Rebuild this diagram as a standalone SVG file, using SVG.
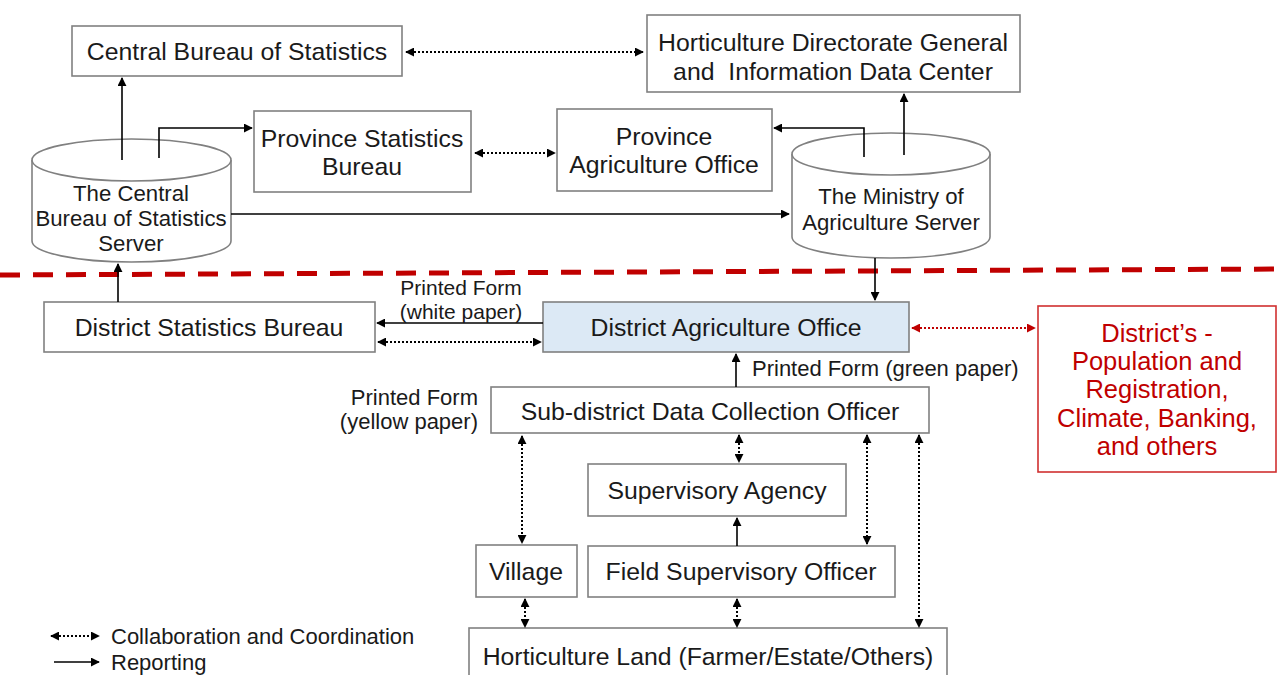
<svg xmlns="http://www.w3.org/2000/svg" width="1282" height="675" viewBox="0 0 1282 675">
<style>
.box{fill:#fff;stroke:#808080;stroke-width:1.6}
.t{font-family:"Liberation Sans",Arial,sans-serif;font-size:24.8px;fill:#1a1a1a;text-anchor:middle;dominant-baseline:central}
.c{font-size:22.2px}
.s{font-family:"Liberation Sans",Arial,sans-serif;font-size:22px;fill:#1a1a1a;dominant-baseline:central}
.w{font-size:21px}
.r{fill:#c00000;font-size:25.5px}
.sol{fill:none;stroke:#000;stroke-width:1.6}
.dot{fill:none;stroke:#000;stroke-width:2;stroke-dasharray:2 2}
.rdot{fill:none;stroke:#c00000;stroke-width:2;stroke-dasharray:2 2}
</style>
<defs>
<marker id="ah" viewBox="0 0 10 10" refX="9" refY="5" markerWidth="9" markerHeight="9" orient="auto-start-reverse" markerUnits="userSpaceOnUse"><path d="M0,0 L10,5 L0,10 z" fill="#000"/></marker>
<marker id="rah" viewBox="0 0 10 10" refX="9" refY="5" markerWidth="9" markerHeight="9" orient="auto-start-reverse" markerUnits="userSpaceOnUse"><path d="M0,0 L10,5 L0,10 z" fill="#c00000"/></marker>
</defs>
<rect width="1282" height="675" fill="#fff"/>

<g id="redline"><path d="M0,275 L1282,269" fill="none" stroke="#c00000" stroke-width="5" stroke-dasharray="20 13"/></g>

<g id="cbs"><rect class="box" x="72" y="26" width="330" height="50"/><text class="t" x="237" y="51">Central Bureau of Statistics</text></g>
<g id="hort"><rect class="box" x="647" y="15" width="373" height="77"/><text class="t" x="833" y="42">Horticulture Directorate General</text><text class="t" x="833" y="71" xml:space="preserve" style="white-space:pre">and  Information Data Center</text></g>
<g id="psb"><rect class="box" x="254" y="111" width="217" height="81"/><text class="t" x="362" y="138">Province Statistics</text><text class="t" x="362" y="166">Bureau</text></g>
<g id="pao"><rect class="box" x="557" y="109" width="215" height="82"/><text class="t" x="664" y="136">Province</text><text class="t" x="664" y="164">Agriculture Office</text></g>
<g id="cbsserver"><path class="box" d="M32,160 L32,241 A99.5,21 0 0 0 231,241 L231,160"/><ellipse class="box" cx="131.5" cy="160" rx="99.5" ry="21"/><text class="t c" x="131" y="193">The Central</text><text class="t c" x="131" y="218">Bureau of Statistics</text><text class="t c" x="131" y="243">Server</text></g>
<g id="moaserver"><path class="box" d="M792,154 L792,237 A99,21 0 0 0 990,237 L990,154"/><ellipse class="box" cx="891" cy="154" rx="99" ry="21"/><text class="t c" x="891" y="196">The Ministry of</text><text class="t c" x="891" y="222">Agriculture Server</text></g>
<g id="dsb"><rect class="box" x="44" y="302" width="331" height="50"/><text class="t" x="209" y="327">District Statistics Bureau</text></g>
<g id="dao"><rect x="543" y="302" width="366" height="50" fill="#dce9f5" stroke="#808080" stroke-width="1.6"/><text class="t" x="726" y="327">District Agriculture Office</text></g>
<g id="other"><rect x="1038" y="306" width="238" height="166" fill="#fff" stroke="#d03030" stroke-width="1.6"/><text class="t r" x="1157" y="333">District’s -</text><text class="t r" x="1157" y="361">Population and</text><text class="t r" x="1157" y="389">Registration,</text><text class="t r" x="1157" y="418">Climate, Banking,</text><text class="t r" x="1157" y="446">and others</text></g>
<g id="sub"><rect class="box" x="491" y="387" width="438" height="46"/><text class="t" x="710" y="411">Sub-district Data Collection Officer</text></g>
<g id="sup"><rect class="box" x="588" y="464" width="258" height="52"/><text class="t" x="717" y="490">Supervisory Agency</text></g>
<g id="village"><rect class="box" x="476" y="545" width="101" height="52"/><text class="t" x="526" y="571">Village</text></g>
<g id="field"><rect class="box" x="588" y="546" width="307" height="51"/><text class="t" x="741" y="571">Field Supervisory Officer</text></g>
<g id="land"><rect class="box" x="469" y="628" width="478" height="60"/><text class="t" x="708" y="656">Horticulture Land (Farmer/Estate/Others)</text></g>

<g id="connectors">
<path class="dot" d="M406,52 L643,52" marker-start="url(#ah)" marker-end="url(#ah)"/>
<path class="dot" d="M475,153 L555,153" marker-start="url(#ah)" marker-end="url(#ah)"/>
<path class="sol" d="M122,160 L122,78" marker-end="url(#ah)"/>
<path class="sol" d="M159,158 L159,128 L252,128" marker-end="url(#ah)"/>
<path class="sol" d="M231,214 L789,214" marker-end="url(#ah)"/>
<path class="sol" d="M904,155 L904,94" marker-end="url(#ah)"/>
<path class="sol" d="M864,157 L864,128 L774,128" marker-end="url(#ah)"/>
<path class="sol" d="M875,258 L875,300" marker-end="url(#ah)"/>
<path class="sol" d="M118,302 L118,264" marker-end="url(#ah)"/>
<path class="sol" d="M543,323 L377,323" marker-end="url(#ah)"/>
<path class="dot" d="M378,342 L541,342" marker-start="url(#ah)" marker-end="url(#ah)"/>
<path class="rdot" d="M912,328 L1035,328" marker-start="url(#rah)" marker-end="url(#rah)"/>
<path class="sol" d="M736,387 L736,354" marker-end="url(#ah)"/>
<path class="dot" d="M522,436 L522,543" marker-start="url(#ah)" marker-end="url(#ah)"/>
<path class="dot" d="M525,599 L525,627" marker-start="url(#ah)" marker-end="url(#ah)"/>
<path class="dot" d="M739,435 L739,462" marker-start="url(#ah)" marker-end="url(#ah)"/>
<path class="sol" d="M737,546 L737,518" marker-end="url(#ah)"/>
<path class="dot" d="M867,435 L867,544" marker-start="url(#ah)" marker-end="url(#ah)"/>
<path class="dot" d="M737,599 L737,627" marker-start="url(#ah)" marker-end="url(#ah)"/>
<path class="dot" d="M919,435 L919,627" marker-start="url(#ah)" marker-end="url(#ah)"/>
</g>

<g id="labels">
<text class="s w" x="461" y="287" text-anchor="middle">Printed Form</text>
<text class="s w" x="461" y="311" text-anchor="middle">(white paper)</text>
<text class="s" x="752" y="368">Printed Form (green paper)</text>
<text class="s" x="478" y="397" text-anchor="end">Printed Form</text>
<text class="s" x="478" y="421" text-anchor="end">(yellow paper)</text>
</g>

<g id="legend">
<path class="dot" d="M51,636 L99,636" marker-start="url(#ah)" marker-end="url(#ah)"/>
<path class="sol" d="M54,662 L99,662" marker-end="url(#ah)"/>
<text class="s" x="111" y="636">Collaboration and Coordination</text>
<text class="s" x="111" y="662">Reporting</text>
</g>
</svg>
